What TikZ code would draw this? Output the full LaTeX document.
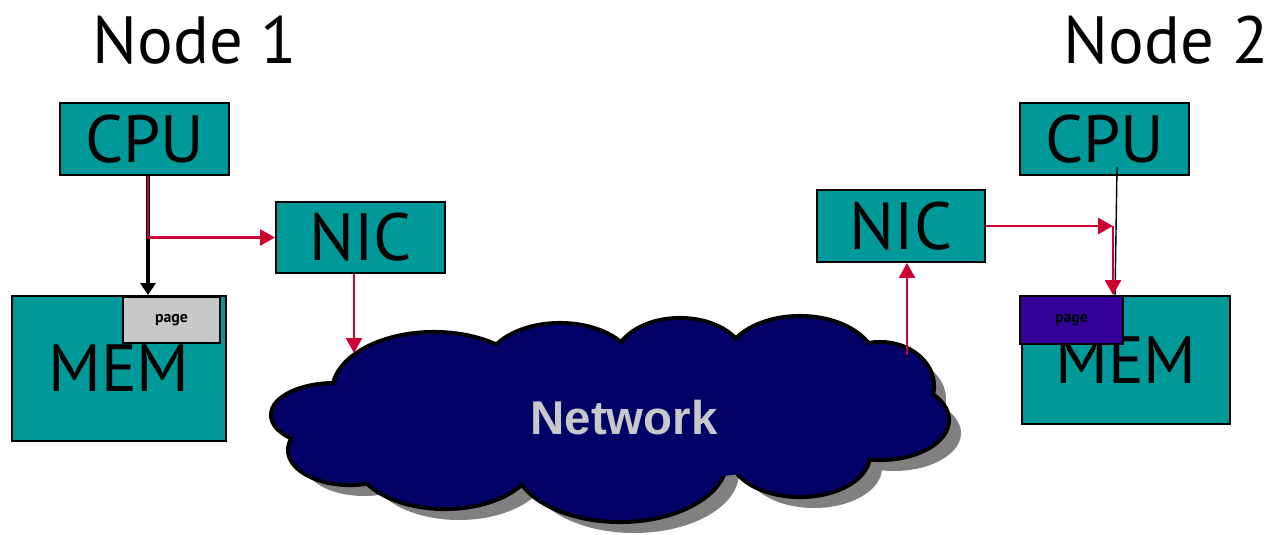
\documentclass[tikz,border=0pt]{standalone}
\usepackage{fontspec}
\setmainfont{PT Sans}
\newfontfamily\netfont{Liberation Sans}
\usetikzlibrary{positioning, arrows.meta}
\definecolor{boxteal}{HTML}{009999}
\definecolor{linkred}{HTML}{CC0033}
\definecolor{cloudnavy}{HTML}{000066}
\definecolor{pagegray}{HTML}{C8C8C8}
\definecolor{pagepurple}{HTML}{330099}
\definecolor{shadowgray}{HTML}{808080}
\definecolor{nettext}{HTML}{C8C8C8}
\tikzset{
	unit/.style={rectangle, draw=black, line width=1.1pt, fill=boxteal, inner sep=0pt,
		font=\fontsize{38}{42}\selectfont},
	pagebox/.style={rectangle, draw=black, line width=0.9pt, inner sep=0pt,
		font=\fontsize{9}{10}\selectfont\bfseries},
	title/.style={font=\fontsize{38}{44}\selectfont, anchor=base},
	memline/.style={line width=2.3pt, -{Triangle[length=0.24cm, width=0.3cm]}},
	probe/.style={line width=0.8pt},
	netline/.style={draw=linkred, line width=1.4pt, -{Triangle[length=0.3cm, width=0.32cm]}},
	netlabel/.style={text=nettext, font=\netfont\fontsize{27}{30}\selectfont\bfseries}
}
% puffs of the cloud: centre x / centre y / x radius / y radius
\def\netpuffs{434/392/100/58, 560/372/75/47, 680/362/64/42, 800/366/75/48,
	880/386/52/42, 880/420/67/38, 800/455/68/40, 620/460/105/60,
	445/455/90/52, 350/450/60/33, 335/415/62/30}

\begin{document}
\begin{tikzpicture}[x=0.02cm, y=-0.02cm]
\useasboundingbox (0,0) rectangle (1274,534);
% titles
\node [title] (title1) at (195,63) {Node 1};
\node [title] (title2) at (1166,63) {Node 2};
% the network cloud: shadow, outline, then fill
\foreach \cx/\cy/\rx/\ry in \netpuffs
	\fill [shadowgray] (\cx+14,\cy+13) ellipse [x radius=\rx, y radius=\ry];
\foreach \cx/\cy/\rx/\ry in \netpuffs
	\draw [line width=4.6pt] (\cx,\cy) ellipse [x radius=\rx, y radius=\ry];
\foreach \cx/\cy/\rx/\ry in \netpuffs
	\fill [cloudnavy] (\cx,\cy) ellipse [x radius=\rx, y radius=\ry];
\fill [cloudnavy] (612,420) ellipse [x radius=260, y radius=62];
\node [netlabel] (net) at (624,418) {Network};
% node 1
\node [unit, minimum width=3.38cm, minimum height=1.44cm] (cpu1) at (144.5,139) {CPU};
\node [unit, minimum width=3.38cm, minimum height=1.42cm] (nic1) at (360.5,237.5) {NIC};
\node [unit, minimum width=4.28cm, minimum height=2.9cm] (mem1) at (119,368.5) {MEM};
\node [pagebox, fill=pagegray, minimum width=1.94cm, minimum height=0.92cm] (page1) at (171.5,320) {page};
% node 2
\node [unit, minimum width=3.38cm, minimum height=1.44cm] (cpu2) at (1104.5,139) {CPU};
\node [unit, minimum width=3.36cm, minimum height=1.44cm] (nic2) at (901,226) {NIC};
\node [unit, minimum width=4.16cm, minimum height=2.56cm] (mem2) at (1126,360) {MEM};
\node [pagebox, fill=pagepurple, minimum width=2.06cm, minimum height=0.96cm] (page2) at (1071.5,320) {page};
% taps and cloud edge points
\coordinate (split1) at (148,237.5);
\coordinate (netin) at (354,353);
\coordinate (netout) at (907,355);
\coordinate (split2) at (1113,226);
\coordinate (cpu2tap) at (1117,167);
\coordinate (cpu2end) at (1115,296);
% connectors
\draw [memline] (cpu1.south -| split1) -- (split1 |- mem1.north);
\draw [netline, -] (cpu1.south -| split1) -- (split1);
\draw [netline] (split1) -- (nic1.west);
\draw [netline] (nic1.south -| netin) -- (netin);
\draw [netline] (netout) -- (nic2.south -| netout);
\draw [probe] (cpu2tap) -- (cpu2end);
\draw [netline] (nic2.east) -- (split2);
\draw [netline] (split2) -- (split2 |- mem2.north);
\end{tikzpicture}
\end{document}
